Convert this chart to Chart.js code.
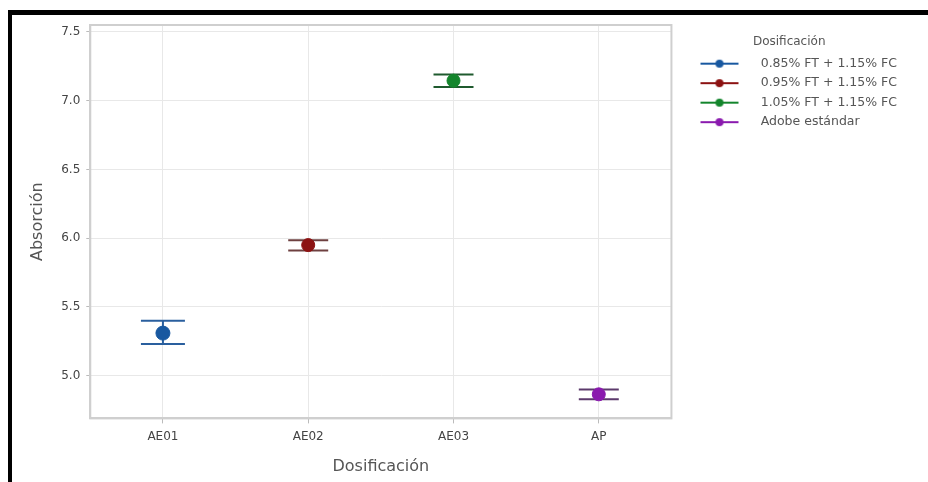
<!DOCTYPE html>
<html>
<head>
<meta charset="utf-8">
<script src="https://cdn.jsdelivr.net/npm/chart.js@4.4.1/dist/chart.umd.min.js"></script>
<style>
  body { margin: 0; background: #fff; }
  #wrap { position: relative; width: 928px; height: 482px; overflow: hidden; }
  #frameLeft { position: absolute; left: 8px; top: 10px; width: 4px; height: 472px; background: #000; }
  #frameTop { position: absolute; left: 8px; top: 10px; width: 920px; height: 5px; background: #000; }
</style>
</head>
<body>
<div id="wrap">
  <canvas id="chart" width="928" height="482"></canvas>
  <div id="frameLeft"></div>
  <div id="frameTop"></div>
</div>
<script>
// categories and values
const categories = ["AE01", "AE02", "AE03", "AP"];
const seriesNames = ["0.85% FT + 1.15% FC", "0.95% FT + 1.15% FC", "1.05% FT + 1.15% FC", "Adobe estándar"];
const means = [5.31, 5.95, 7.145, 4.865];
const lowerErr = [5.23, 5.91, 7.10, 4.83];
const upperErr = [5.40, 5.985, 7.19, 4.90];
const yTicks = [5.0, 5.5, 6.0, 6.5, 7.0, 7.5];

const pointColors = ["#1858a0", "#8c1212", "#13852c", "#8a1aae"];
const barColors = ["#2a5f9e", "#6e4040", "#1f5a2e", "#5c3a6c"];

// legend symbol: a line with a dot, with some empty room on its left
function legendSymbol(color) {
  const c = document.createElement("canvas");
  c.width = 76;
  c.height = 10;
  const g = c.getContext("2d");
  g.strokeStyle = color;
  g.lineWidth = 2;
  g.beginPath();
  g.moveTo(22, 5);
  g.lineTo(60, 5);
  g.stroke();
  g.fillStyle = color;
  g.beginPath();
  g.arc(41, 5, 4, 0, Math.PI * 2);
  g.fill();
  return c;
}

const datasets = seriesNames.map((name, i) => ({
  label: name,
  data: categories.map((c, j) => (j === i ? means[i] : null)),
  showLine: false,
  pointRadius: i === 0 ? 7 : 6.5,
  pointHoverRadius: 7,
  pointBackgroundColor: pointColors[i],
  pointBorderColor: pointColors[i],
  borderColor: pointColors[i],
  backgroundColor: pointColors[i],
}));

// error bars drawn through the chart's own scales
const errorBars = {
  id: "errorBars",
  beforeDatasetsDraw(chart) {
    const { ctx, scales } = chart;
    ctx.save();
    categories.forEach((c, i) => {
      const x = scales.x.getPixelForValue(i);
      const yLo = scales.y.getPixelForValue(lowerErr[i]);
      const yHi = scales.y.getPixelForValue(upperErr[i]);
      const half = i === 0 ? 22 : 20;
      ctx.strokeStyle = barColors[i];
      ctx.lineWidth = 2;
      ctx.beginPath();
      ctx.moveTo(x, yLo);
      ctx.lineTo(x, yHi);
      ctx.moveTo(x - half, yLo);
      ctx.lineTo(x + half, yLo);
      ctx.moveTo(x - half, yHi);
      ctx.lineTo(x + half, yHi);
      ctx.stroke();
    });
    ctx.restore();
  },
  afterDraw(chart) {
    const { ctx, chartArea } = chart;
    ctx.save();
    ctx.strokeStyle = "#cfcfcf";
    ctx.lineWidth = 2;
    ctx.strokeRect(chartArea.left, chartArea.top, chartArea.right - chartArea.left, chartArea.bottom - chartArea.top);
    ctx.restore();
  },
};

const font = "'DejaVu Sans', sans-serif";

new Chart(document.getElementById("chart"), {
  type: "line",
  data: { labels: categories, datasets },
  plugins: [errorBars],
  options: {
    responsive: false,
    animation: false,
    layout: { padding: { left: 24, top: 25, right: 21, bottom: 2 } },
    plugins: {
      tooltip: { enabled: false },
      legend: {
        position: "right",
        align: "start",
        maxWidth: 300,
        title: {
          display: true,
          text: "Dosificación",
          color: "#555",
          font: { family: font, size: 12 },
          padding: { top: 11, bottom: 0 },
        },
        labels: {
          usePointStyle: true,
          pointStyleWidth: 76,
          boxHeight: 10,
          padding: 7,
          color: "#555",
          font: { family: font, size: 12.5 },
          generateLabels(chart) {
            return seriesNames.map((name, i) => ({
              text: name,
              pointStyle: legendSymbol(pointColors[i]),
              fillStyle: pointColors[i],
              strokeStyle: pointColors[i],
              lineWidth: 0,
              datasetIndex: i,
            }));
          },
        },
      },
    },
    scales: {
      x: {
        offset: true,
        grid: { offset: false, color: "#e8e8e8", lineWidth: 1, tickLength: 5, tickColor: "#bbb" },
        border: { display: true, color: "#cfcfcf", width: 2 },
        ticks: { color: "#444", font: { family: font, size: 12 }, padding: 6 },
        title: {
          display: true,
          text: "Dosificación",
          color: "#555",
          font: { family: font, size: 16 },
          padding: { top: 7 },
        },
      },
      y: {
        min: 4.69,
        max: 7.55,
        afterBuildTicks(axis) {
          axis.ticks = yTicks.map((v) => ({ value: v }));
        },
        grid: { color: "#e8e8e8", lineWidth: 1, tickLength: 4, tickColor: "#bbb" },
        border: { display: true, color: "#cfcfcf", width: 2 },
        ticks: {
          color: "#444",
          font: { family: font, size: 12 },
          padding: 6,
          callback: (v) => Number(v).toFixed(1),
        },
        title: {
          display: true,
          text: "Absorción",
          color: "#555",
          font: { family: font, size: 16 },
          padding: { bottom: 8 },
        },
      },
    },
  },
});
</script>
</body>
</html>
